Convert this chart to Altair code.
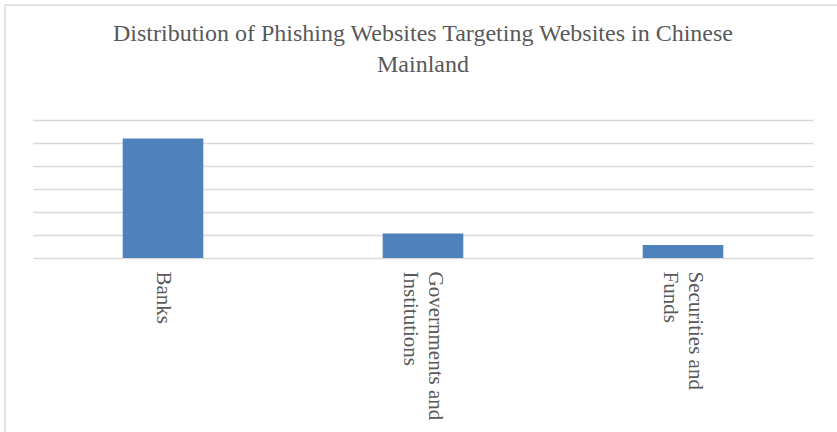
import altair as alt
import pandas as pd

categories = ["Banks", "Governments and\nInstitutions", "Securities and\nFunds"]
values = [52.0, 10.7, 5.6]

df = pd.DataFrame({"category": categories, "value": values})

FONT = "Liberation Serif"
GRAY = "#595959"

bars = alt.Chart(df).mark_bar(color="#4f81bd").encode(
    x=alt.X(
        "category:N",
        sort=categories,
        title=None,
        scale=alt.Scale(paddingInner=0.69, paddingOuter=0.345),
        axis=alt.Axis(
            labelAngle=90,
            labelFont=FONT,
            labelFontSize=21,
            labelColor=GRAY,
            labelPadding=13,
            labelLineHeight=25,
            labelExpr="split(datum.label, '\\n')",
            labelOffset={"condition": {"test": "indexof(datum.label, '\\n') >= 0", "value": 12}, "value": 0},
            ticks=False,
            domain=False,
            grid=False,
        ),
    ),
    y=alt.Y(
        "value:Q",
        title=None,
        scale=alt.Scale(domain=[0, 60], nice=False),
        axis=alt.Axis(
            values=[0, 10, 20, 30, 40, 50, 60],
            labels=False,
            ticks=False,
            domain=False,
            grid=True,
            gridColor="#d9d9d9",
            gridWidth=1.5,
        ),
    ),
)

frame = alt.Chart(alt.Data(values=[{}])).mark_rule(color="#d9d9d9", strokeWidth=1.5).encode(
    x=alt.value(-28), x2=alt.value(820), y=alt.value(-115)
)
frame2 = alt.Chart(alt.Data(values=[{}])).mark_rule(color="#d9d9d9", strokeWidth=1.5).encode(
    x=alt.value(-28), y=alt.value(-115), y2=alt.value(400)
)

chart = alt.layer(frame, frame2, bars).properties(
    width=780,
    height=138,
    autosize=alt.AutoSizeParams(type="none"),
    padding={"left": 33, "right": 24, "top": 120, "bottom": 174},
    title=alt.TitleParams(
        text=["Distribution of Phishing Websites Targeting Websites in Chinese", "Mainland"],
        font=FONT,
        fontSize=24,
        fontWeight="normal",
        color=GRAY,
        lineHeight=31,
        anchor="middle",
        offset=-73,
    ),
).configure(background="white", view=alt.ViewConfig(stroke=None))

chart.save("out.html", embed_options={"renderer": "svg", "actions": False})
